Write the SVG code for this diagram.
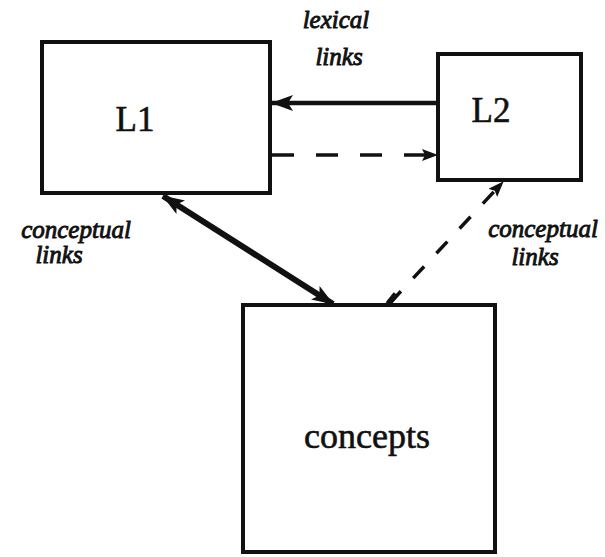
<svg xmlns="http://www.w3.org/2000/svg" width="605" height="557" viewBox="0 0 605 557">
  <style>
    .box { fill: #fff; stroke: #111; stroke-width: 4; }
    .name { font-family: "Liberation Serif", "Times New Roman", serif; fill: #111; stroke: #111; stroke-width: 0.6; text-anchor: middle; }
    .lbl { font-family: "Liberation Serif", "Times New Roman", serif; font-style: italic; font-size: 25px; fill: #111; stroke: #111; stroke-width: 0.9; text-anchor: middle; }
    .link { fill: none; stroke: #111; }
  </style>
  <defs>
    <marker id="head" markerUnits="userSpaceOnUse" viewBox="0 0 22 16" refX="21" refY="8" markerWidth="22" markerHeight="16" orient="auto-start-reverse">
      <path d="M0,0 L22,8 L0,16 L5,8 Z" fill="#111"/>
    </marker>
    <marker id="headSmall" markerUnits="userSpaceOnUse" viewBox="0 0 16 12" refX="15" refY="6" markerWidth="16" markerHeight="12" orient="auto">
      <path d="M0,0 L16,6 L0,12 L3,6 Z" fill="#111"/>
    </marker>
  </defs>

  <rect width="605" height="557" fill="#fff"/>

  <g id="node-L1">
    <rect class="box" x="42" y="42" width="228" height="151"/>
    <text class="name" x="135" y="131" font-size="35">L1</text>
  </g>

  <g id="node-L2">
    <rect class="box" x="438" y="54" width="143" height="126"/>
    <text class="name" x="491" y="122" font-size="35">L2</text>
  </g>

  <g id="node-concepts">
    <rect class="box" x="243" y="305" width="252" height="247"/>
    <text class="name" x="367" y="448" font-size="36">concepts</text>
  </g>

  <g id="connectors">
    <!-- lexical link L2 -> L1 -->
    <line class="link" x1="438" y1="103" x2="272" y2="103" stroke-width="4.5" marker-end="url(#head)"/>
    <!-- lexical link L1 -> L2 (weak) -->
    <line class="link" x1="272" y1="155" x2="437" y2="155" stroke-width="3.5" stroke-dasharray="22 22" marker-end="url(#headSmall)"/>
    <!-- conceptual link L1 <-> concepts -->
    <line class="link" x1="163" y1="196" x2="333" y2="304" stroke-width="6" marker-start="url(#head)" marker-end="url(#head)"/>
    <!-- conceptual link concepts -> L2 (weak) -->
    <line class="link" x1="390" y1="303" x2="503" y2="182" stroke-width="3.5" stroke-dasharray="16 18" marker-end="url(#headSmall)"/>
    <line class="link" x1="388" y1="304" x2="396" y2="294" stroke-width="6"/>
  </g>

  <g id="labels">
    <text class="lbl" x="336" y="28">lexical</text>
    <text class="lbl" x="339" y="65">links</text>
    <text class="lbl" x="76" y="238">conceptual</text>
    <text class="lbl" x="59" y="263">links</text>
    <text class="lbl" x="543" y="237">conceptual</text>
    <text class="lbl" x="535" y="265">links</text>
  </g>
</svg>
